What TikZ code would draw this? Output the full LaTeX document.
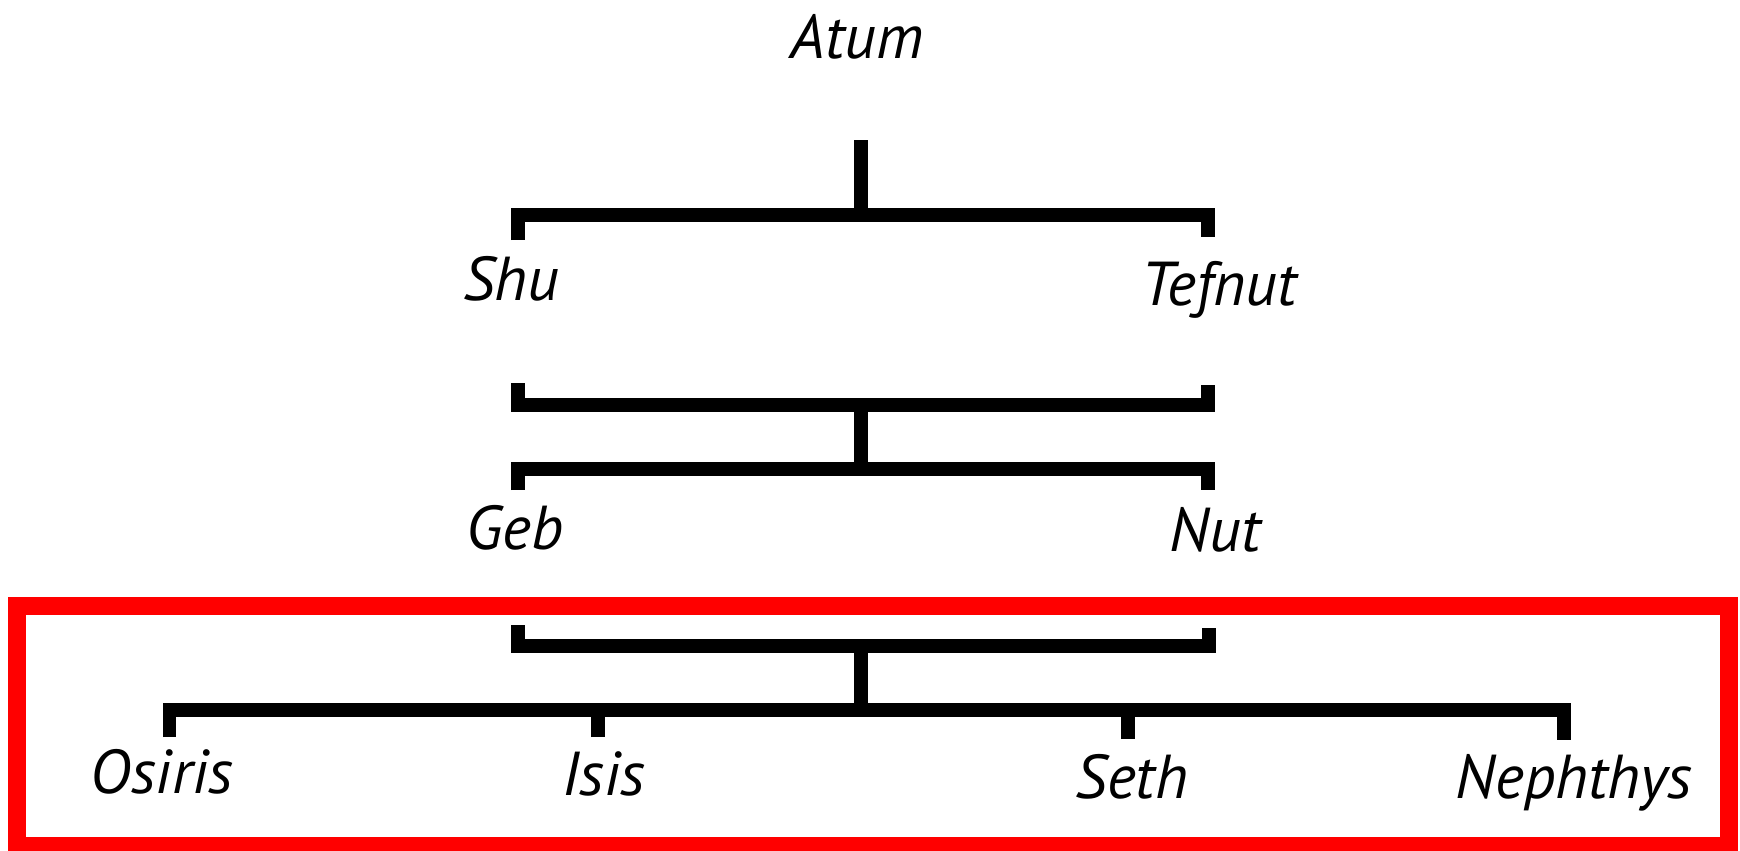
\documentclass[tikz,border=0pt]{standalone}
\usepackage{fontspec}
\setmainfont{PT Sans}
\begin{document}
\begin{tikzpicture}[x=0.5pt,y=-0.5pt,
  lbl/.style={font=\fontsize{31pt}{37pt}\selectfont\itshape, inner sep=0pt, anchor=base},
  bar/.style={line width=6.75pt, line cap=butt, line join=miter, black},
  hilite/.style={draw=red, line width=9pt}]
\useasboundingbox (0,0) rectangle (1740,851);
\fill[white] (0,0) rectangle (1740,851);
% labels
\node[lbl] (atum) at (857,58) {Atum};
\node[lbl] (shu) at (511,300) {Shu};
\node[lbl] (tefnut) at (1219,305) {Tefnut};
\node[lbl] (geb) at (515,549) {Geb};
\node[lbl] (nut) at (1215,551) {Nut};
\node[lbl] (osiris) at (162,793) {Osiris};
\node[lbl] (isis) at (604,795) {Isis};
\node[lbl] (seth) at (1132,798) {Seth};
\node[lbl] (nephthys) at (1574,798) {Nephthys};
% junction coordinates
\coordinate (atumstem) at (861,140);
\coordinate (atumjoin) at (861,215);
\coordinate (shutick) at (518,240);
\coordinate (tefnuttick) at (1208,237);
\coordinate (shuup) at (518,383);
\coordinate (tefnutup) at (1208,385);
\coordinate (mjoinA) at (861,405);
\coordinate (mjoinB) at (861,469);
\coordinate (gebtick) at (518,490);
\coordinate (nuttick) at (1208,490);
\coordinate (gebup) at (518,625);
\coordinate (nutup) at (1209,628);
\coordinate (bjoinA) at (861,646);
\coordinate (bjoinB) at (861,710);
\coordinate (osiristick) at (169.5,737);
\coordinate (isistick) at (598,737);
\coordinate (sethtick) at (1128,739);
\coordinate (nephthystick) at (1564,740);
% Atum -> Shu, Tefnut
\draw[bar] (atumstem) -- (atumjoin);
\draw[bar] (shutick) |- (atumjoin) -| (tefnuttick);
% Shu + Tefnut -> Geb, Nut
\draw[bar] (shuup) |- (mjoinA) -| (tefnutup);
\draw[bar] (mjoinA) -- (mjoinB);
\draw[bar] (gebtick) |- (mjoinB) -| (nuttick);
% Geb + Nut -> children
\draw[bar] (gebup) |- (bjoinA) -| (nutup);
\draw[bar] (bjoinA) -- (bjoinB);
\draw[bar] (osiristick) |- (bjoinB) -| (nephthystick);
\draw[bar] (isistick) -- (isistick |- bjoinB);
\draw[bar] (sethtick) -- (sethtick |- bjoinB);
% highlight frame
\draw[hilite] (17,606) rectangle (1729,846);
\end{tikzpicture}
\end{document}
